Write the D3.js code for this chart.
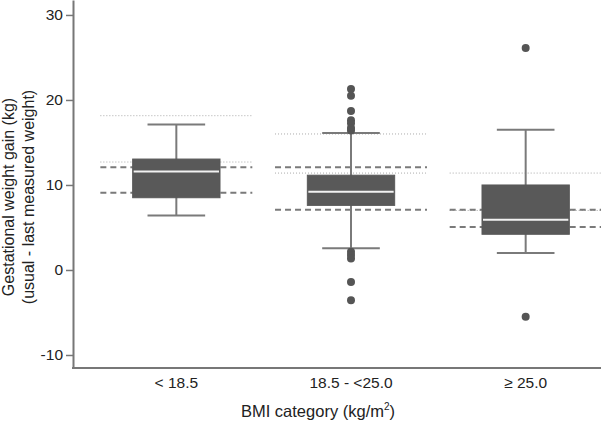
<!DOCTYPE html>
<html>
<head>
<meta charset="utf-8">
<script src="https://cdn.jsdelivr.net/npm/d3@7"></script>
<style>
  body { margin: 0; background: #fff; }
  text { font-family: "Liberation Sans", Arial, sans-serif; }
</style>
</head>
<body>
<div id="chart"></div>
<script>
const width = 601;
const height = 431;

// categories and box statistics (kg)
const categories = ["< 18.5", "18.5 - <25.0", "\u2265 25.0"];
const whiskerLow = [6.4, 2.55, 2.0];
const q1 = [8.5, 7.6, 4.2];
const median = [11.6, 9.2, 5.9];
const q3 = [13.05, 11.15, 10.0];
const whiskerHigh = [17.1, 16.1, 16.5];

// outliers per category
const outliers = [
  [],
  [21.3, 20.5, 18.7, 17.6, 17.25, 16.7, 16.4, 2.15, 1.75, 1.35, -1.4, -3.55],
  [26.1, -5.5]
];

// reference ranges per category
const dottedLines = [[18.15, 12.7], [16.0, 11.4], [11.4, 7.0]];
const dashedLines = [[12.1, 9.1], [12.1, 7.1], [7.1, 5.05]];

const yTicks = [-10, 0, 10, 20, 30];

const margin = { left: 73, bottom: 368 };

const svg = d3.select("#chart")
  .append("svg")
  .attr("width", width)
  .attr("height", height);

const y = d3.scaleLinear().domain([-11.53, 31.76]).range([margin.bottom, 0]);
const x = d3.scaleBand().domain(categories).range([89, 613]);

const boxW = x.bandwidth() * 0.5;
const capW = boxW * 0.66;
const refW = x.bandwidth() * 0.87;
const cx = c => x(c) + x.bandwidth() / 2;

// reference lines (behind boxes)
categories.forEach((c, i) => {
  dottedLines[i].forEach(v => {
    svg.append("line")
      .attr("x1", cx(c) - refW / 2).attr("x2", cx(c) + refW / 2)
      .attr("y1", y(v)).attr("y2", y(v))
      .attr("stroke", "#aaa")
      .attr("stroke-width", 1)
      .attr("stroke-dasharray", "1,2");
  });
  dashedLines[i].forEach(v => {
    svg.append("line")
      .attr("x1", cx(c) - refW / 2).attr("x2", cx(c) + refW / 2)
      .attr("y1", y(v)).attr("y2", y(v))
      .attr("stroke", "#7a7a7a")
      .attr("stroke-width", 2)
      .attr("stroke-dasharray", "6,4");
  });
});

// boxes
categories.forEach((c, i) => {
  const g = svg.append("g");
  g.append("line")
    .attr("x1", cx(c)).attr("x2", cx(c))
    .attr("y1", y(whiskerLow[i])).attr("y2", y(whiskerHigh[i]))
    .attr("stroke", "#7a7a7a").attr("stroke-width", 2);
  [whiskerLow[i], whiskerHigh[i]].forEach(v => {
    g.append("line")
      .attr("x1", cx(c) - capW / 2).attr("x2", cx(c) + capW / 2)
      .attr("y1", y(v)).attr("y2", y(v))
      .attr("stroke", "#7a7a7a").attr("stroke-width", 2);
  });
  g.append("rect")
    .attr("x", cx(c) - boxW / 2)
    .attr("width", boxW)
    .attr("y", y(q3[i]))
    .attr("height", y(q1[i]) - y(q3[i]))
    .attr("fill", "#595959")
    .attr("stroke", "#595959");
  g.append("line")
    .attr("x1", cx(c) - boxW / 2 + 1).attr("x2", cx(c) + boxW / 2 - 1)
    .attr("y1", y(median[i])).attr("y2", y(median[i]))
    .attr("stroke", "#f2f2f2").attr("stroke-width", 2);
  g.selectAll("circle")
    .data(outliers[i])
    .enter()
    .append("circle")
    .attr("cx", cx(c))
    .attr("cy", d => y(d))
    .attr("r", 4)
    .attr("fill", "#555");
});

// axes
const yAxis = svg.append("g")
  .attr("transform", "translate(" + margin.left + ",0)")
  .call(d3.axisLeft(y).tickValues(yTicks).tickFormat(d => String(d))
    .tickSize(7).tickPadding(3).tickSizeOuter(0));
yAxis.select(".domain").attr("stroke", "#777").attr("stroke-width", 2);
yAxis.selectAll(".tick line").attr("stroke", "#777").attr("stroke-width", 1.5);
yAxis.selectAll(".tick text")
  .attr("fill", "#222")
  .style("font-size", "15.5px")
  .style("font-family", "Liberation Sans, Arial, sans-serif");

svg.append("line")
  .attr("x1", margin.left - 1).attr("x2", width)
  .attr("y1", margin.bottom).attr("y2", margin.bottom)
  .attr("stroke", "#777").attr("stroke-width", 2);

categories.forEach(c => {
  svg.append("text")
    .attr("x", cx(c))
    .attr("y", 388)
    .attr("text-anchor", "middle")
    .attr("fill", "#222")
    .style("font-size", "15.5px")
    .text(c);
});

// axis titles
const xTitle = svg.append("text")
  .attr("x", 318)
  .attr("y", 417)
  .attr("text-anchor", "middle")
  .attr("fill", "#222")
  .style("font-size", "16.5px");
xTitle.append("tspan").text("BMI category (kg/m");
xTitle.append("tspan").attr("dy", -7).style("font-size", "10px").text("2");
xTitle.append("tspan").attr("dy", 7).text(")");

const yTitle = svg.append("text")
  .attr("transform", "translate(0,197) rotate(-90)")
  .attr("text-anchor", "middle")
  .attr("fill", "#222")
  .style("font-size", "16px");
yTitle.append("tspan").attr("x", 0).attr("y", 14).text("Gestational weight gain (kg)");
yTitle.append("tspan").attr("x", 0).attr("y", 34).text("(usual - last measured weight)");
</script>
</body>
</html>
